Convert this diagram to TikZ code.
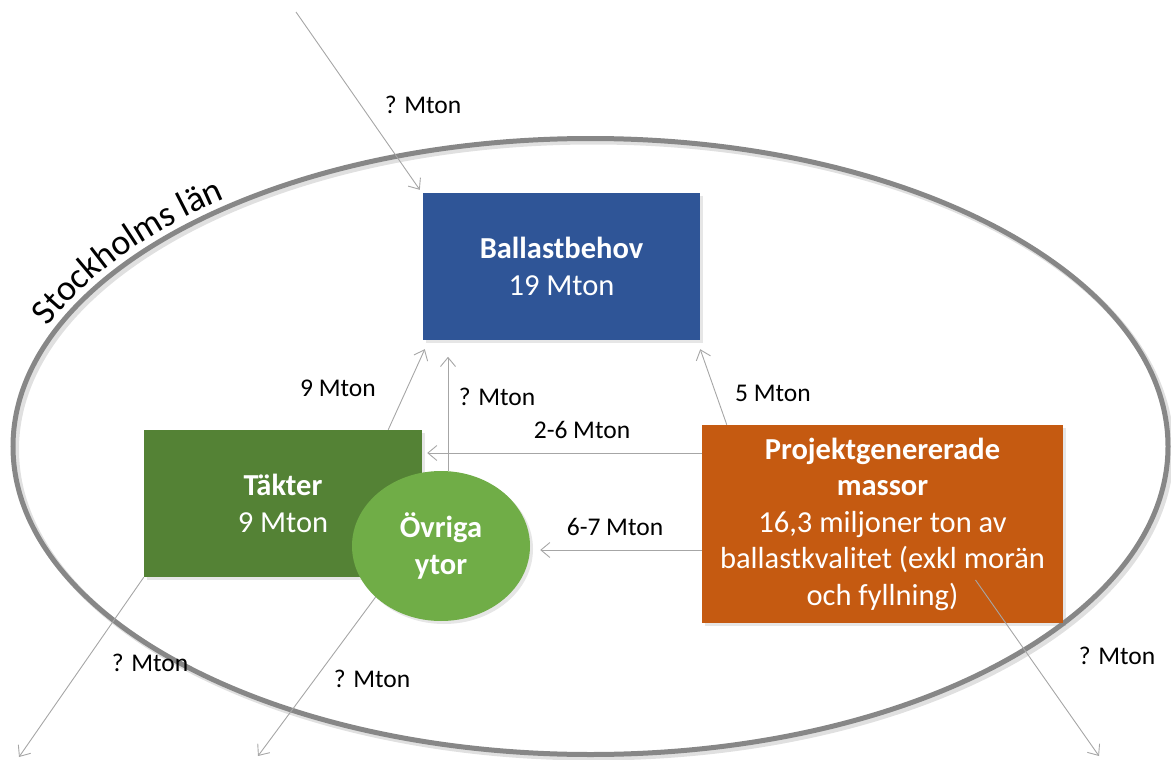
\documentclass[tikz,border=0pt]{standalone}
\usepackage{fontspec}
\setmainfont{Carlito}
\usetikzlibrary{arrows.meta,shapes.geometric,shadows,decorations.text}
\definecolor{behovblue}{HTML}{2F5597}
\definecolor{takgreen}{HTML}{548235}
\definecolor{ovrgreen}{HTML}{70AD47}
\definecolor{projorange}{HTML}{C55A11}
\definecolor{lanrim}{HTML}{878787}
\definecolor{flowgray}{HTML}{A6A6A6}
\newcommand{\boxsize}{\fontsize{30.5}{36.5}\selectfont}
\newcommand{\mtonsize}{\fontsize{25.5}{30}\selectfont}
\newcommand{\lansize}{\fontsize{36}{42}\selectfont}
\tikzset{
  box/.style={rectangle, text=white, align=center, font=\boxsize, inner sep=0pt,
    drop shadow={shadow xshift=3pt, shadow yshift=-3pt, opacity=0.2}},
  flow/.style={->, draw=flowgray, line width=0.9pt},
  mton/.style={font=\mtonsize, inner sep=0pt},
}

\begin{document}
\begin{tikzpicture}[x=1pt, y=-1pt, >={Straight Barb[length=9pt,width=15pt]}]
    \useasboundingbox (0,0) rectangle (1171,760);

    % Stockholms län
    \draw[line width=6pt, black!12] (593.5,449.5) ellipse [x radius=577.5, y radius=308];
    \draw[line width=5pt, lanrim] (590.5,446.5) ellipse [x radius=577.5, y radius=308];
    \path[decorate, decoration={text along path, text={|\lansize|Stockholms län}, text align=center}]
        (590.5,446.5) ++(-160:586 and 317) arc [start angle=-160, end angle=-127, x radius=586, y radius=317];

    % Rutor
    \node[box, fill=behovblue, minimum width=277pt, minimum height=147pt] (behov) at (561.5,266.5)
        {\textbf{Ballastbehov}\\19 Mton};
    \node[box, fill=takgreen, minimum width=278pt, minimum height=147pt] (takter) at (283,503.5)
        {\textbf{Täkter}\\9 Mton};
    \node[box, ellipse, fill=ovrgreen, minimum width=178pt, minimum height=150pt] (ovriga) at (441,546)
        {\textbf{Övriga}\\\textbf{ytor}};
    \node[box, fill=projorange, minimum width=361pt, minimum height=198pt] (projekt) at (882.5,524)
        {\textbf{Projektgenererade}\\\textbf{massor}\\16,3 miljoner ton av\\ballastkvalitet (exkl morän\\och fyllning)};

    \coordinate (inTop) at (296,12);
    \coordinate (outTakter) at (19,757);
    \coordinate (outOvriga) at (258,756);
    \coordinate (outProjekt) at (1099,756);

    % Flöden
    \draw[flow] (inTop) -- ([xshift=-3pt,yshift=3pt]behov.north west);
    \draw[flow] ([xshift=-34pt]takter.north east) -- ([xshift=2pt,yshift=-9pt]behov.south west);
    \draw[flow] ([xshift=7pt]ovriga.north) -- ++(0,-114);
    \draw[flow] ([yshift=71pt]projekt.west) -- ([xshift=5pt,yshift=50.5pt]takter.east);
    \draw[flow] ([yshift=-26pt]projekt.west) -- ([xshift=10pt,yshift=-4pt]ovriga.east);
    \draw[flow] ([xshift=25pt]projekt.north west) -- ([yshift=-9pt]behov.south east);
    \draw[flow] (takter.south west) -- (outTakter);
    \draw[flow] (ovriga.218) -- (outOvriga);
    \draw[flow] ([xshift=93pt,yshift=-56pt]projekt.center) -- (outProjekt);

    \node[mton] (qTop) at (423,105) {? Mton};
    \node[mton] (q9) at (338,388) {9 Mton};
    \node[mton] (qOvr) at (497,397) {? Mton};
    \node[mton] (q26) at (582,430) {2-6 Mton};
    \node[mton] (q67) at (615,527) {6-7 Mton};
    \node[mton] (q5) at (773,393) {5 Mton};
    \node[mton] (qTak) at (150,663) {? Mton};
    \node[mton] (qOvrUt) at (372,679) {? Mton};
    \node[mton] (qProj) at (1117,656) {? Mton};
\end{tikzpicture}
\end{document}
